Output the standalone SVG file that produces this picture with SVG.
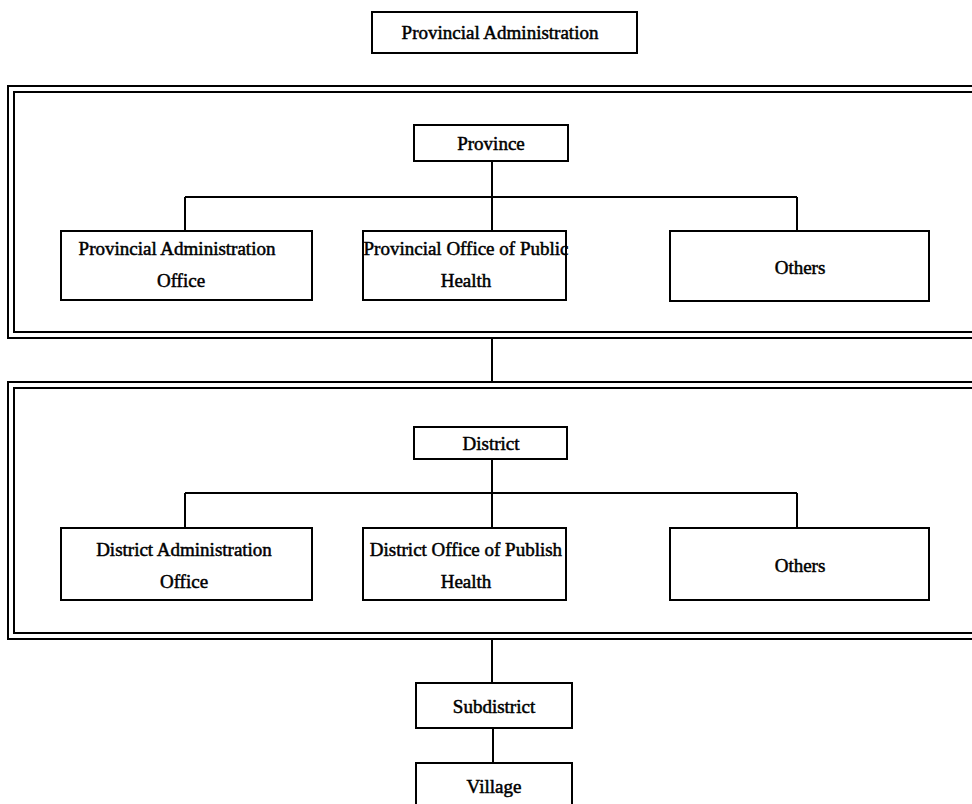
<svg xmlns="http://www.w3.org/2000/svg" width="972" height="804" viewBox="0 0 972 804">
  <style>
    .box { fill: #fff; stroke: #000; stroke-width: 2; }
    .frame { fill: none; stroke: #000; stroke-width: 2; }
    .link { fill: none; stroke: #000; stroke-width: 2; }
    text { font-family: "Liberation Serif", "Times New Roman", serif; font-size: 19px; fill: #000; stroke: #000; stroke-width: 0.5; text-anchor: middle; }
  </style>
  <rect width="972" height="804" fill="#fff"/>

  <!-- Double-line frames around each administrative level -->
  <g id="frame-province">
    <rect class="frame" x="8" y="86" width="990" height="252"/>
    <rect class="frame" x="14" y="92" width="990" height="240"/>
  </g>
  <g id="frame-district">
    <rect class="frame" x="8" y="382" width="990" height="257"/>
    <rect class="frame" x="14" y="388" width="990" height="245"/>
  </g>

  <!-- Connectors -->
  <g id="connectors">
    <path class="link" d="M492 161 V197 M185 197 H797 M185 197 V231 M492 197 V231 M797 197 V231"/>
    <path class="link" d="M492 338 V382"/>
    <path class="link" d="M492 459 V493 M185 493 H797 M185 493 V528 M492 493 V528 M797 493 V528"/>
    <path class="link" d="M492 639 V683"/>
    <path class="link" d="M493 728 V763"/>
  </g>

  <g id="provincial-administration">
    <rect class="box" x="372" y="12" width="265" height="41"/>
    <text x="500" y="39">Provincial Administration</text>
  </g>

  <g id="province">
    <rect class="box" x="414" y="125" width="154" height="36"/>
    <text x="491" y="150">Province</text>
  </g>
  <g id="provincial-admin-office">
    <rect class="box" x="61" y="231" width="251" height="69"/>
    <text x="177" y="255">Provincial Administration</text>
    <text x="181" y="287">Office</text>
  </g>
  <g id="provincial-public-health">
    <rect class="box" x="363" y="231" width="203" height="69"/>
    <text x="466" y="255">Provincial Office of Public</text>
    <text x="466" y="287">Health</text>
  </g>
  <g id="provincial-others">
    <rect class="box" x="670" y="231" width="259" height="70"/>
    <text x="800" y="274">Others</text>
  </g>

  <g id="district">
    <rect class="box" x="414" y="427" width="153" height="32"/>
    <text x="491" y="450">District</text>
  </g>
  <g id="district-admin-office">
    <rect class="box" x="61" y="528" width="251" height="72"/>
    <text x="184" y="556">District Administration</text>
    <text x="184" y="588">Office</text>
  </g>
  <g id="district-public-health">
    <rect class="box" x="363" y="528" width="203" height="72"/>
    <text x="466" y="556">District Office of Publish</text>
    <text x="466" y="588">Health</text>
  </g>
  <g id="district-others">
    <rect class="box" x="670" y="528" width="259" height="72"/>
    <text x="800" y="572">Others</text>
  </g>

  <g id="subdistrict">
    <rect class="box" x="416" y="683" width="156" height="45"/>
    <text x="494" y="713">Subdistrict</text>
  </g>
  <g id="village">
    <rect class="box" x="416" y="763" width="156" height="46"/>
    <text x="494" y="793">Village</text>
  </g>
</svg>
